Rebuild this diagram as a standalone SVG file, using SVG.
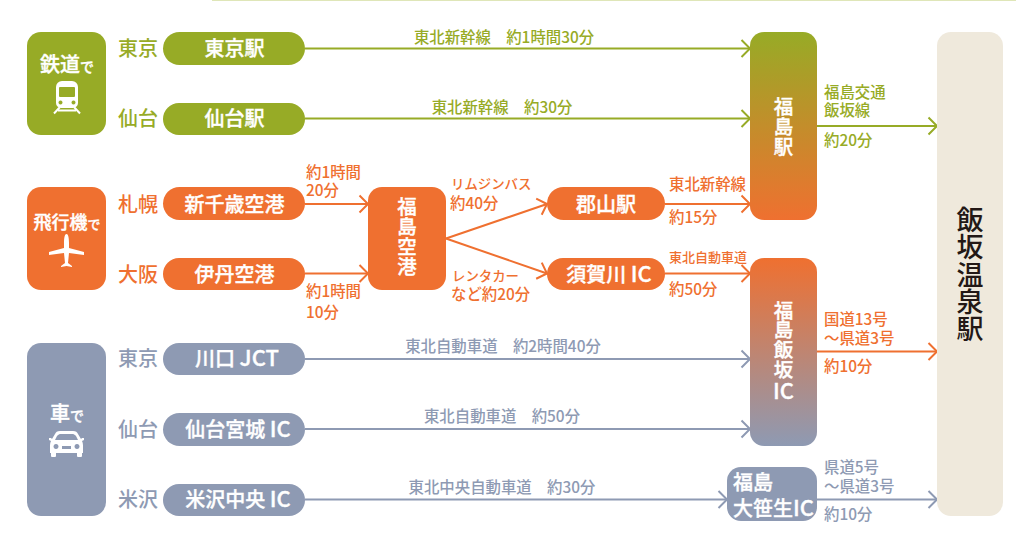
<svg xmlns="http://www.w3.org/2000/svg" width="1016" height="540" viewBox="0 0 1016 540">
<style>
text{font-family:"Noto Sans CJK JP","Noto Sans",sans-serif;font-weight:500}
.w{fill:#fff;stroke:#fff;stroke-width:.35px;text-anchor:middle;font-size:20px}
.v{writing-mode:vertical-rl;text-anchor:start;font-size:19.500px;letter-spacing:.3px}
.g{fill:#97ab26}.o{fill:#ef7030}.b{fill:#8e9ab3}
.s{font-size:15.4px}.t{font-size:13.400px}.l{font-size:20px}.m{text-anchor:middle}
.cg,.co,.cb{fill:none;stroke-width:2}
.cg{stroke:#97ab26}.co{stroke:#ef7030}.cb{stroke:#8e9ab3}
.ic{font-size:22px}
</style>
<defs>
<marker id="ag" markerUnits="userSpaceOnUse" markerWidth="12" markerHeight="20" refX="10" refY="10" orient="auto"><path d="M1.5 1.5L10 10L1.5 18.500" fill="none" stroke="#97ab26" stroke-width="2"/></marker>
<marker id="ao" markerUnits="userSpaceOnUse" markerWidth="12" markerHeight="20" refX="10" refY="10" orient="auto"><path d="M1.5 1.5L10 10L1.5 18.500" fill="none" stroke="#ef7030" stroke-width="2"/></marker>
<marker id="ab" markerUnits="userSpaceOnUse" markerWidth="12" markerHeight="20" refX="10" refY="10" orient="auto"><path d="M1.5 1.5L10 10L1.5 18.500" fill="none" stroke="#8e9ab3" stroke-width="2"/></marker>
<linearGradient id="g1" x1="0" y1="0" x2="0" y2="1"><stop offset="0" stop-color="#97ab26"/><stop offset="1" stop-color="#ef7030"/></linearGradient>
<linearGradient id="g2" x1="0" y1="0" x2="0" y2="1"><stop offset="0" stop-color="#ef7030"/><stop offset="1" stop-color="#8e9ab3"/></linearGradient>
</defs>
<rect x="212" y="0" width="804" height="1" fill="#dfe6b8"/>
<g id="connectors">
<path class="cg" marker-end="url(#ag)" d="M305 48.500H750"/>
<path class="cg" marker-end="url(#ag)" d="M305 118.500H750"/>
<path class="cg" marker-end="url(#ag)" d="M817 126H937"/>
<path class="co" marker-end="url(#ao)" d="M305 204H368"/>
<path class="co" marker-end="url(#ao)" d="M305 273.500H368"/>
<path class="co" marker-end="url(#ao)" d="M446 238.500L547 204"/>
<path class="co" marker-end="url(#ao)" d="M446 238.500L547 273.500"/>
<path class="co" marker-end="url(#ao)" d="M665 204H750"/>
<path class="co" marker-end="url(#ao)" d="M665 273.500H750"/>
<path class="co" marker-end="url(#ao)" d="M817 351.500H937"/>
<path class="cb" marker-end="url(#ab)" d="M305 359H750"/>
<path class="cb" marker-end="url(#ab)" d="M305 429H750"/>
<path class="cb" marker-end="url(#ab)" d="M305 499.500H727"/>
<path class="cb" marker-end="url(#ab)" d="M817 499.500H937"/>
</g>
<g id="labels">
<text class="s m g" x="504" y="43">東北新幹線　約1時間30分</text>
<text class="s m g" x="502" y="113">東北新幹線　約30分</text>
<text class="s g" x="824" y="98">福島交通</text>
<text class="s g" x="824" y="116">飯坂線</text>
<text class="s g" x="824" y="146">約20分</text>
<text class="s o" x="306" y="178">約1時間</text>
<text class="s o" x="306" y="196">20分</text>
<text class="s o" x="306" y="297">約1時間</text>
<text class="s o" x="306" y="318">10分</text>
<text class="t o" x="451" y="189">リムジンバス</text>
<text class="s o" x="450" y="209">約40分</text>
<text class="t o" x="452" y="281">レンタカー</text>
<text class="s o" x="451" y="300">など約20分</text>
<text class="s o" x="669" y="190">東北新幹線</text>
<text class="s o" x="669" y="223">約15分</text>
<text class="t o" x="669" y="262" style="font-size:13px">東北自動車道</text>
<text class="s o" x="669" y="295">約50分</text>
<text class="s o" x="824" y="325">国道13号</text>
<text class="s o" x="824" y="344">～県道3号</text>
<text class="s o" x="824" y="372">約10分</text>
<text class="s m b" x="503" y="352">東北自動車道　約2時間40分</text>
<text class="s m b" x="502" y="422">東北自動車道　約50分</text>
<text class="s m b" x="502" y="493">東北中央自動車道　約30分</text>
<text class="s b" x="824" y="473">県道5号</text>
<text class="s b" x="824" y="492">～県道3号</text>
<text class="s b" x="824" y="520">約10分</text>
<text class="l g" x="118" y="56">東京</text>
<text class="l g" x="118" y="126">仙台</text>
<text class="l o" x="118" y="212">札幌</text>
<text class="l o" x="118" y="282">大阪</text>
<text class="l b" x="118" y="366">東京</text>
<text class="l b" x="118" y="437">仙台</text>
<text class="l b" x="118" y="507">米沢</text>
</g>
<g id="mode-rail">
<rect class="g" x="27" y="32" width="79" height="103" rx="14"/>
<text class="w" x="67" y="72">鉄道<tspan style="font-size:14px">で</tspan></text>
<path fill="#fff" fill-rule="evenodd" d="M62 81h10a6 6 0 0 1 6 6v16a5 5 0 0 1-5 5H61a5 5 0 0 1-5-5V87a6 6 0 0 1 6-6zM60 87a1 1 0 0 0-1 1v8a1 1 0 0 0 1 1h14a1 1 0 0 0 1-1v-8a1 1 0 0 0-1-1zM60.500 100.500a2 2 0 1 0 .01 0zM73.500 100.500a2 2 0 1 0 .01 0z"/>
<path fill="none" stroke="#fff" stroke-width="2" d="M60 107l-6 6.500M74 107l6 6.500M58 110.500h18"/>
</g>
<g id="mode-plane">
<rect class="o" x="27" y="187" width="79" height="103" rx="14"/>
<text class="w" x="67" y="229" style="font-size:18px">飛行機<tspan style="font-size:13px">で</tspan></text>
<path fill="#fff" d="M66.500 234c2 0 2.500 5 2.500 9v5l15 4v3l-15-2-1 10 4 3v1l-5.500-1-5.500 1v-1l4-3-1-10-15 2v-3l15-4v-5c0-4 .5-9 2.500-9z"/>
</g>
<g id="mode-car">
<rect class="b" x="27" y="343" width="79" height="173" rx="14"/>
<text class="w" x="67" y="421">車<tspan style="font-size:14px">で</tspan></text>
<path fill="#fff" fill-rule="evenodd" d="M60 431h13c3 0 4 1 5 3l3 5 1-1h2v2l-2 1c1 2 1 4 1 6v6h-1v3a1 1 0 0 1-1 1h-3a1 1 0 0 1-1-1v-3H56v3a1 1 0 0 1-1 1h-3a1 1 0 0 1-1-1v-3h-1v-6c0-2 0-4 1-6l-2-1v-2h2l1 1 3-5c1-2 2-3 5-3zM60 434c-1 0-2 1-3 2l-2 4h23l-2-4c-1-1-2-2-3-2zM56 444a2.500 2.500 0 1 0 .01 0zM77 444a2.500 2.500 0 1 0 .01 0zM62 446v3h9v-3z"/>
</g>
<g id="p-tokyo"><rect class="g" x="163" y="32" width="142" height="33" rx="16.500"/><text class="w" x="234.500" y="56">東京駅</text></g>
<g id="p-sendai"><rect class="g" x="163" y="103" width="142" height="32" rx="16"/><text class="w" x="234.500" y="126">仙台駅</text></g>
<g id="p-chitose"><rect class="o" x="163" y="187" width="142" height="33" rx="16.500"/><text class="w" x="234.500" y="212">新千歳空港</text></g>
<g id="p-itami"><rect class="o" x="163" y="258" width="142" height="32" rx="16"/><text class="w" x="234.500" y="282">伊丹空港</text></g>
<g id="p-kawaguchi"><rect class="b" x="163" y="343" width="142" height="32" rx="16"/><text class="w" x="237" y="366">川口 <tspan class="ic">JCT</tspan></text></g>
<g id="p-sendaimiyagi"><rect class="b" x="163" y="413" width="142" height="33" rx="16.500"/><text class="w" x="238" y="437">仙台宮城 <tspan class="ic">IC</tspan></text></g>
<g id="p-yonezawa"><rect class="b" x="163" y="484" width="142" height="32" rx="16"/><text class="w" x="238" y="507">米沢中央 <tspan class="ic">IC</tspan></text></g>
<g id="n-fukushima-airport"><rect class="o" x="368" y="187" width="78" height="103" rx="14"/>
<text class="w v" x="407" y="197">福島空港</text></g>
<g id="n-koriyama"><rect class="o" x="547" y="187" width="118" height="33" rx="16.500"/><text class="w" x="606" y="212">郡山駅</text></g>
<g id="n-sukagawa"><rect class="o" x="547" y="258" width="118" height="32" rx="16"/><text class="w" x="609" y="282">須賀川 <tspan class="ic">IC</tspan></text></g>
<g id="n-fukushima-st"><rect fill="url(#g1)" x="750" y="32" width="67" height="188" rx="14"/>
<text class="w v" x="783.500" y="97">福島駅</text></g>
<g id="n-iizaka-ic"><rect fill="url(#g2)" x="750" y="258" width="67" height="188" rx="14"/>
<text class="w v" x="783.500" y="300.500">福島飯坂</text><text class="w ic" x="783.500" y="399">IC</text></g>
<g id="n-osasou"><rect class="b" x="727" y="467" width="90" height="54" rx="14"/>
<text class="w" x="733" y="490" style="text-anchor:start">福島</text><text class="w" x="733" y="516" style="text-anchor:start">大笹生<tspan class="ic">IC</tspan></text></g>
<g id="n-iizaka-onsen"><rect fill="#efe9dc" x="937" y="32" width="66" height="484" rx="14"/>
<text fill="#231815" style="writing-mode:vertical-rl;font-size:27px;letter-spacing:.4px" x="970" y="206">飯坂温泉駅</text></g>
</svg>
